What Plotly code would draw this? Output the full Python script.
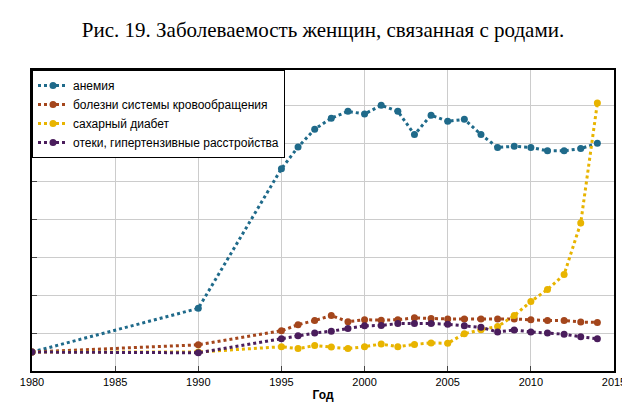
import plotly.graph_objects as go

years = [1980, 1990] + list(range(1995, 2015))
anemia = [0.5, 1.65, 5.33, 5.9, 6.37, 6.66, 6.84, 6.77, 7.0, 6.84, 6.23, 6.74, 6.58, 6.63, 6.23, 5.89, 5.92, 5.89, 5.8, 5.8, 5.86, 6.0]
circ = [0.5, 0.69, 1.06, 1.22, 1.33, 1.46, 1.30, 1.35, 1.34, 1.35, 1.4, 1.38, 1.37, 1.37, 1.37, 1.37, 1.37, 1.35, 1.33, 1.33, 1.29, 1.28]
diab = [0.5, 0.5, 0.64, 0.59, 0.67, 0.63, 0.59, 0.64, 0.71, 0.64, 0.70, 0.74, 0.73, 0.98, 1.09, 1.17, 1.46, 1.83, 2.15, 2.54, 3.9, 7.06]
edema = [0.5, 0.48, 0.85, 0.93, 1.0, 1.05, 1.12, 1.19, 1.2, 1.25, 1.25, 1.25, 1.23, 1.19, 1.15, 1.03, 1.08, 1.03, 1.0, 0.97, 0.9, 0.85]
names = ["анемия", "болезни системы кровообращения", "сахарный диабет", "отеки, гипертензивные расстройства"]
colors = ["#1f6a8a", "#a4461c", "#e8b400", "#4a1d5c"]
xticks = [1980, 1985, 1990, 1995, 2000, 2005, 2010, 2015]

fig = go.Figure()
for n, ys, c in zip(names, [anemia, circ, diab, edema], colors):
    fig.add_trace(go.Scatter(x=years, y=ys, name=n, mode="lines+markers",
                             line=dict(color=c, width=3, dash="dot"),
                             marker=dict(color=c, size=7)))
fig.update_layout(
    width=630, height=414, margin=dict(l=17, r=23, t=62, b=51),
    paper_bgcolor="white", plot_bgcolor="white",
    title=dict(text="Рис. 19. Заболеваемость женщин, связанная с родами.", x=0.5, y=0.965,
               xanchor="center", font=dict(family="Liberation Serif", size=21, color="black")),
    font=dict(family="Liberation Sans", color="black"),
    xaxis=dict(range=[1980, 2015], tickvals=xticks, showgrid=True, gridcolor="#cccccc",
               showline=True, linecolor="black", linewidth=1.5, mirror=True, ticks="inside",
               tickfont=dict(size=11, family="Liberation Sans"), zeroline=False,
               title=dict(text="<b>Год</b>", font=dict(size=12), standoff=4)),
    yaxis=dict(range=[0, 7.93], dtick=1, showticklabels=False, showgrid=True, gridcolor="#cccccc",
               showline=True, linecolor="black", linewidth=1.5, mirror=True, ticks="inside",
               zeroline=False),
    legend=dict(x=0, y=1, xanchor="left", yanchor="top", bgcolor="white", bordercolor="black",
                borderwidth=1, font=dict(size=12), tracegroupgap=0, itemwidth=30),
)
fig.write_html("out.html")
